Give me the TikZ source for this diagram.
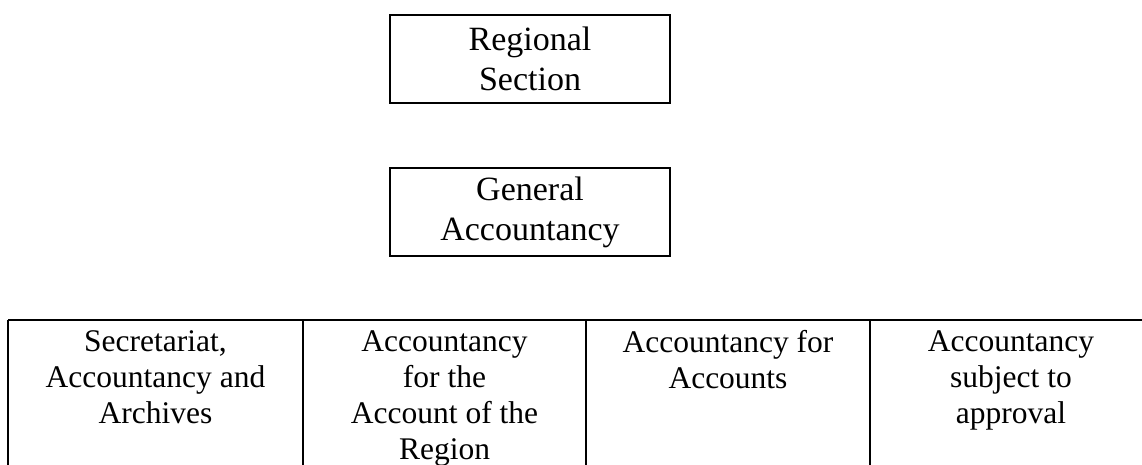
\documentclass[tikz,border=0pt]{standalone}
\usepackage{fontspec}
\setmainfont{Liberation Serif}
\usetikzlibrary{positioning}

\begin{document}
\begin{tikzpicture}[x=1pt,y=-1pt]
    \tikzset{vertex/.style = {shape=rectangle,draw,line width=2pt,align=center,minimum width=280pt,minimum height=88pt,font=\fontsize{34}{40}\selectfont}}
    \tikzset{cell/.style = {align=center,inner sep=0pt,anchor=north,font=\fontsize{31.5}{36}\selectfont}}
    \tikzset{rule/.style = {line width=2pt}}
    \useasboundingbox (0,0) rectangle (1142,464);
    % vertices
    \node[vertex] (1) at (530,59) {Regional\\ Section};
    \node[vertex] (2) at (530,212) {General\\ Accountancy};
    % table
    \coordinate (a) at (8,320);
    \coordinate (b) at (1160,320);
    \draw[rule] (a) -- (b);
    \foreach \x in {8,303,586,870}
        \draw[rule] (\x,320) -- (\x,480);
    \node[cell] (3) at (155.5,330) {Secretariat,\\ Accountancy and\\ Archives};
    \node[cell] (4) at (444.5,330) {Accountancy\\ for the\\ Account of the\\ Region};
    \node[cell] (5) at (728,330) {Accountancy for\\ Accounts};
    \node[cell] (6) at (1011,330) {Accountancy\\ subject to\\ approval};
\end{tikzpicture}
\end{document}
